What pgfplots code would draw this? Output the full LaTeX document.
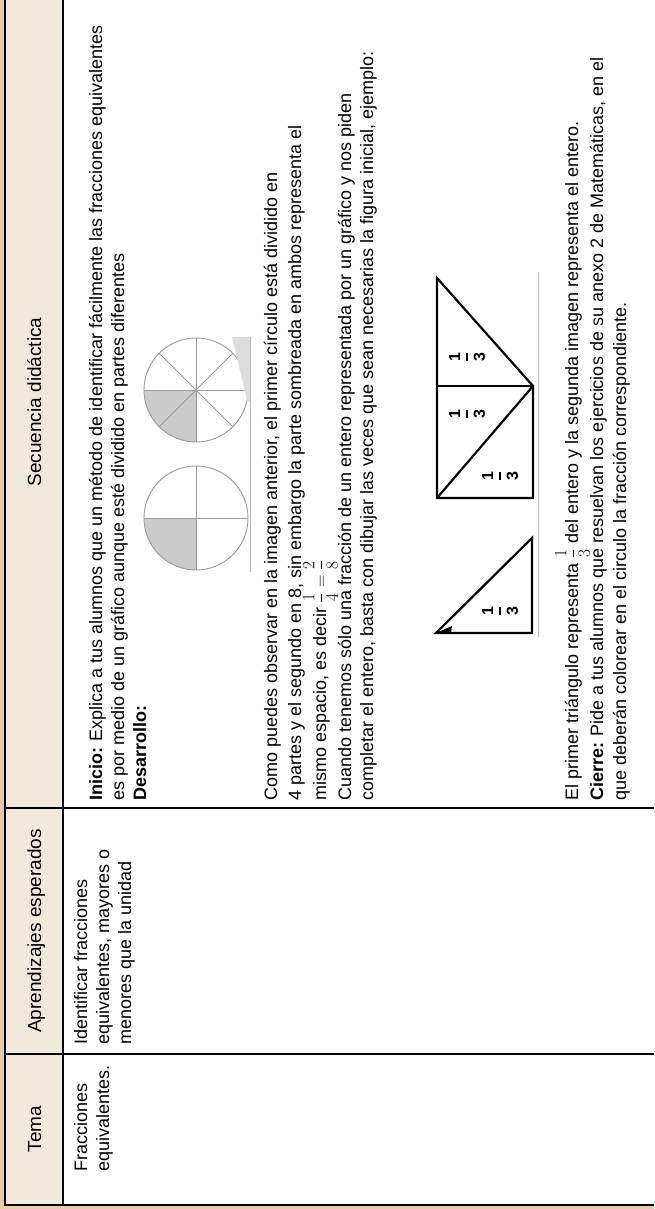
\documentclass[border=0pt]{standalone}
\usepackage{pgfplots}
\pgfplotsset{compat=1.18}
\usepackage{amsmath}
\usepackage{fontspec}
\setmainfont{Liberation Sans}

\definecolor{pagetan}{HTML}{E4CCA8}
\definecolor{headbeige}{HTML}{F2E9DD}
\definecolor{circline}{HTML}{9A9A9A}
\definecolor{circfill}{HTML}{CBCBCB}
\definecolor{sliver}{HTML}{DCDCDC}

\newcommand{\body}{\fontsize{18}{21}\selectfont}
\newcommand{\head}{\fontsize{19}{23}\selectfont}
\newcommand{\third}{$\genfrac{}{}{1.8pt}{0}{\textbf{1}}{\textbf{3}}$}

\tikzset{
  txt/.style={rotate=90, anchor=base west, inner sep=0pt, font=\body},
  hd/.style={rotate=90, anchor=base, inner sep=0pt, font=\head},
  frac/.style={rotate=90, inner sep=0pt, font=\fontsize{16}{19}\selectfont\bfseries},
}

\begin{document}
\begin{tikzpicture}
\begin{axis}[
  name=ax,
  scale only axis,
  width=654pt, height=1209pt,
  xmin=0, xmax=654, ymin=0, ymax=1209,
  y dir=reverse,
  hide axis,
  clip=false,
]

% page and cell backgrounds
\addplot[fill=pagetan, draw=none] coordinates {(0,0) (654,0) (654,1209) (0,1209)} -- cycle;
\addplot[fill=headbeige, draw=none] coordinates {(5,0) (63,0) (63,1205) (5,1205)} -- cycle;
\addplot[fill=white, draw=none] coordinates {(63,0) (654,0) (654,1205) (63,1205)} -- cycle;

% table rules
\addplot[black, line width=2.2pt] coordinates {(5,0) (5,1206)};
\addplot[black, line width=2.2pt] coordinates {(63,0) (63,1206)};
\addplot[black, line width=2.2pt] coordinates {(4,1205) (654,1205)};
\addplot[black, line width=2.2pt] coordinates {(4,1054) (654,1054)};
\addplot[black, line width=2.2pt] coordinates {(4,808) (654,808)};

% header row
\node[hd] at (axis cs:41,1129) {Tema};
\node[hd] at (axis cs:41,931) {Aprendizajes esperados};
\node[hd] at (axis cs:41,402) {Secuencia didáctica};

% Tema
\node[txt] at (axis cs:87,1172) {Fracciones};
\node[txt] at (axis cs:109,1172) {equivalentes.};

% Aprendizajes esperados
\node[txt] at (axis cs:87,1045) {Identificar fracciones};
\node[txt] at (axis cs:109,1045) {equivalentes, mayores o};
\node[txt] at (axis cs:131,1045) {menores que la unidad};

% Secuencia didactica
\node[txt] at (axis cs:102,801) {\textbf{Inicio:} Explica a tus alumnos que un método de identificar fácilmente las fracciones equivalentes};
\node[txt] at (axis cs:124,801) {es por medio de un gráfico aunque esté dividido en partes diferentes};
\node[txt] at (axis cs:146,801) {\textbf{Desarrollo:}};

% circles: 1/4 and 2/8
\fill[circfill] (axis cs:196,518) -- ++(-52pt,0pt) arc[start angle=180, end angle=270, radius=52pt] -- cycle;
\draw[circline, line width=0.9pt] (axis cs:196,518) circle[radius=52];
\addplot[circline, line width=0.9pt] coordinates {(144,518) (248,518)};
\addplot[circline, line width=0.9pt] coordinates {(196,466) (196,570)};

\fill[circfill] (axis cs:196,390) -- ++(-52pt,0pt) arc[start angle=180, end angle=270, radius=52pt] -- cycle;
\draw[circline, line width=0.9pt] (axis cs:196,390) circle[radius=52];
\addplot[circline, line width=0.9pt] coordinates {(144,390) (248,390)};
\addplot[circline, line width=0.9pt] coordinates {(196,338) (196,442)};
\addplot[circline, line width=0.9pt] coordinates {(159.2,353.2) (232.8,426.8)};
\addplot[circline, line width=0.9pt] coordinates {(159.2,426.8) (232.8,353.2)};
\addplot[fill=sliver, draw=none] coordinates {(232,337) (250,337) (250,402) (247,400)} -- cycle;
\addplot[circline!70, line width=0.9pt] coordinates {(250,337) (250,572)};

\node[txt] at (axis cs:277,801) {Como puedes observar en la imagen anterior, el primer círculo está dividido en};
\node[txt] at (axis cs:301,801) {4 partes y el segundo en 8, sin embargo la parte sombreada en ambos representa el};
\node[txt] at (axis cs:326,801) {mismo espacio, es decir $\dfrac{1}{4}=\dfrac{2}{8}$};
\node[txt] at (axis cs:351,801) {Cuando tenemos sólo una fracción de un entero representada por un gráfico y nos piden};
\node[txt] at (axis cs:373,801) {completar el entero, basta con dibujar las veces que sean necesarias la figura inicial, ejemplo:};

% triangles
\addplot[black, line width=2.2pt] coordinates {(436,633) (532,538) (532,633)} -- cycle;
\addplot[fill=black, draw=none] coordinates {(436,633) (452,626) (451,633)} -- cycle;
\addplot[black, line width=2.2pt] coordinates {(437,278) (437,498) (533,498) (533,386)} -- cycle;
\addplot[black, line width=2.2pt] coordinates {(437,386) (533,386)};
\addplot[black, line width=2.2pt] coordinates {(437,498) (533,386)};
\addplot[gray!50, line width=0.8pt] coordinates {(538,272) (538,637)};

\node[frac] at (axis cs:467,357) {\third};
\node[frac] at (axis cs:467,414) {\third};
\node[frac] at (axis cs:500,476) {\third};
\node[frac] at (axis cs:500,611) {\third};

\node[txt] at (axis cs:578,801) {El primer triángulo representa $\dfrac{1}{3}$ del entero y la segunda imagen representa el entero.};
\node[txt] at (axis cs:603,801) {\textbf{Cierre:} Pide a tus alumnos que resuelvan los ejercicios de su anexo 2 de Matemáticas, en el};
\node[txt] at (axis cs:626,801) {que deberán colorear en el circulo la fracción correspondiente.};

\end{axis}
\pgfresetboundingbox
\path[use as bounding box] (ax.south west) rectangle (ax.north east);
\end{tikzpicture}
\end{document}
